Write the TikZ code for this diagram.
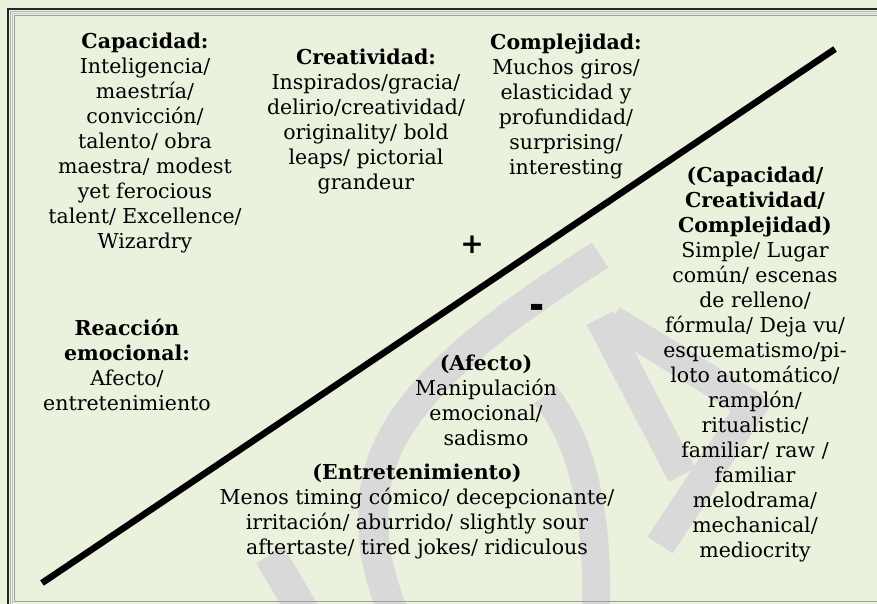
\documentclass[tikz,border=0pt]{standalone}
\usepackage{fontspec}
\setmainfont{DejaVu Serif}
\newfontfamily\signfont{DejaVu Sans}

\definecolor{bgGreen}{RGB}{234,241,221}
\definecolor{markGray}{RGB}{217,217,217}

\tikzset{
  txtblock/.style={align=center,inner sep=0pt,anchor=north,
    font=\fontsize{20.5}{25}\selectfont},
  signlbl/.style={inner sep=0pt,font=\signfont\bfseries\fontsize{28}{28}\selectfont},
  wmark/.style={markGray,line width=30pt}
}

\begin{document}
\begin{tikzpicture}[x=1pt,y=-1pt,
divider/.style={line width=6.5pt}]

\useasboundingbox (0,0) rectangle (877,604);
\fill[bgGreen] (0,0) rectangle (877,604);
\clip (0,0) rectangle (877,604);

% watermark
\draw[wmark] (600,255) .. controls (500,320) and (380,400) .. (374,500) .. controls (370,560) and (385,590) .. (400,630);
\draw[wmark,line width=28pt] (545,395) .. controls (590,450) and (600,540) .. (595,630);
\draw[wmark] (600,318) -- (682,475);
\draw[wmark,miter limit=4] (612,320) -- (752,406) -- (660,545);
\draw[wmark,line width=32pt] (270,555) -- (320,640);

% frame
\draw[line width=2pt,black!85] (8,9) rectangle (900,620);
\draw[line width=0.8pt,gray!60] (10.8,11.8) rectangle (897,616);
\draw[line width=0.8pt,gray!45] (12.6,13.6) rectangle (894,610);
\draw[line width=1pt,gray!75] (14.8,15.8) rectangle (890,601.5);

% dividing line
\coordinate (lo) at (42,583);
\coordinate (hi) at (835,49);
\draw[divider] (lo) -- (hi);

\node[signlbl] (plus) at (472,245) {+};
\node[signlbl,yscale=1.5,xscale=1.3] (minus) at (537,312) {-};

% upper side
\node[txtblock] (capac) at (145,33) {\textbf{Capacidad:}\\Inteligencia/\\maestría/\\convicción/\\talento/ obra\\maestra/ modest\\yet ferocious\\talent/ Excellence/\\Wizardry};
\node[txtblock] (creat) at (366,49) {\textbf{Creatividad:}\\Inspirados/gracia/\\delirio/creatividad/\\originality/ bold\\leaps/ pictorial\\grandeur};
\node[txtblock] (compl) at (566,34) {\textbf{Complejidad:}\\Muchos giros/\\elasticidad y\\profundidad/\\surprising/\\interesting};
\node[txtblock] (reac) at (127,319) {\textbf{Reacción}\\\textbf{emocional:}\\Afecto/\\entretenimiento};

% lower side
\node[txtblock] (simple) at (755,167) {\textbf{(Capacidad/}\\\textbf{Creatividad/}\\\textbf{Complejidad)}\\Simple/ Lugar\\común/ escenas\\de relleno/\\fórmula/ Deja vu/\\esquematismo/pi-\\loto automático/\\ramplón/\\ritualistic/\\familiar/ raw /\\familiar\\melodrama/\\mechanical/\\mediocrity};
\node[txtblock] (afec) at (486,355) {\textbf{(Afecto)}\\Manipulación\\emocional/\\sadismo};
\node[txtblock] (entre) at (417,464) {\textbf{(Entretenimiento)}\\Menos timing cómico/ decepcionante/\\irritación/ aburrido/ slightly sour\\aftertaste/ tired jokes/ ridiculous};
\end{tikzpicture}
\end{document}
